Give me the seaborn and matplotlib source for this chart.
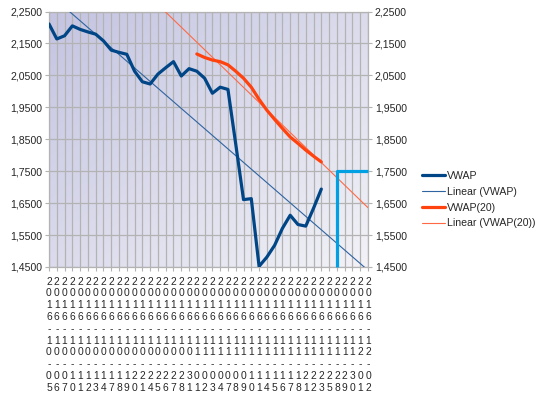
import numpy as np
import pandas as pd
import seaborn as sns
import matplotlib.pyplot as plt
from matplotlib.ticker import FuncFormatter
from matplotlib.lines import Line2D
from matplotlib.colors import LinearSegmentedColormap

dates = ['2016-10-05', '2016-10-06', '2016-10-07', '2016-10-10', '2016-10-11', '2016-10-12',
         '2016-10-13', '2016-10-14', '2016-10-17', '2016-10-18', '2016-10-19', '2016-10-20',
         '2016-10-21', '2016-10-24', '2016-10-25', '2016-10-26', '2016-10-27', '2016-10-28',
         '2016-10-31', '2016-11-01', '2016-11-02', '2016-11-03', '2016-11-04', '2016-11-07',
         '2016-11-08', '2016-11-09', '2016-11-10', '2016-11-11', '2016-11-14', '2016-11-15',
         '2016-11-16', '2016-11-17', '2016-11-18', '2016-11-21', '2016-11-22', '2016-11-23',
         '2016-11-25', '2016-11-28', '2016-11-29', '2016-11-30', '2016-12-01', '2016-12-02']

vwap = [2.211, 2.164, 2.174, 2.205, 2.194, 2.186, 2.179, 2.158, 2.129, 2.122,
        2.116, 2.063, 2.030, 2.023, 2.054, 2.074, 2.093, 2.048, 2.071, 2.063,
        2.041, 1.994, 2.013, 2.006, 1.835, 1.661, 1.664, 1.452, 1.481, 1.518,
        1.571, 1.612, 1.583, 1.578, 1.634, 1.694]

vwap20 = [2.117, 2.106, 2.098, 2.093, 2.083, 2.063, 2.041, 2.013, 1.975, 1.941,
          1.912, 1.884, 1.857, 1.837, 1.816, 1.797, 1.779]
vwap20_start = '2016-11-01'

target_level = 1.75
target_date = '2016-11-28'

n = len(dates)
idx = np.arange(n)
df = pd.DataFrame({'pos': idx, 'date': dates})
df['VWAP'] = pd.Series(vwap, dtype=float)
start = dates.index(vwap20_start)
df['VWAP(20)'] = np.nan
df.loc[start:start + len(vwap20) - 1, 'VWAP(20)'] = vwap20


def trend(col):
    d = df.dropna(subset=[col])
    k, b = np.polyfit(d['pos'], d[col], 1)
    return k * idx + b


df['Linear (VWAP)'] = trend('VWAP')
df['Linear (VWAP(20))'] = trend('VWAP(20)')

sns.set_style('white')
plt.rcParams['font.family'] = ['Liberation Sans', 'DejaVu Sans']

fig = plt.figure(figsize=(5.4, 3.98), dpi=100)
ax = fig.add_axes([49 / 540, 1 - 267 / 398, 319 / 540, 255.5 / 398])

ymin, ymax = 1.45, 2.25

# gradient background, darker in the top-left corner
gx, gy = np.meshgrid(np.linspace(0, 1, 200), np.linspace(0, 1, 200))
grad = (gx + gy) / 2
cmap = LinearSegmentedColormap.from_list('bg', ['#c4c4e2', '#f2f2f7'])
ax.imshow(grad, cmap=cmap, extent=[0, 1, 0, 1], transform=ax.transAxes,
          aspect='auto', origin='upper', zorder=0)

blue = '#004586'
orange = '#ff420e'
sns.lineplot(data=df, x='pos', y='Linear (VWAP)', ax=ax, color='#2f64a0', lw=0.8, zorder=3)
sns.lineplot(data=df, x='pos', y='Linear (VWAP(20))', ax=ax, color='#ff6a45', lw=0.8, zorder=3)
sns.lineplot(data=df, x='pos', y='VWAP', ax=ax, color=blue, lw=2.3, zorder=4)
sns.lineplot(data=df, x='pos', y='VWAP(20)', ax=ax, color=orange, lw=2.3, zorder=4)

ti = dates.index(target_date)
ax.plot([ti, ti, n - 1], [ymin, target_level, target_level], color='#00a0e3',
        lw=2.3, zorder=5, clip_on=False, solid_capstyle='butt')

ax.set_xlim(0, n - 1)
ax.set_ylim(ymin, ymax)
ax.set_xticks(idx)
ax.set_xticklabels(['\n'.join(d) for d in dates], fontsize=7.4, linespacing=1.22)
ax.set_yticks(np.arange(14500, 22501, 1000) / 10000)
ax.yaxis.set_major_formatter(FuncFormatter(lambda v, p: f'{v:.4f}'.replace('.', ',')))
ax.tick_params(axis='y', labelsize=7.6, left=True, right=True, labelright=True,
               length=3, width=0.8, color='#b3b3b3', pad=2)
ax.tick_params(axis='x', bottom=True, length=3, width=0.8, color='#b3b3b3', pad=4)
ax.grid(True, color='#b3b3b3', lw=0.9, zorder=1)
ax.set_axisbelow(True)
for s in ax.spines.values():
    s.set_color('#b3b3b3')
    s.set_linewidth(0.9)
ax.set_xlabel('')
ax.set_ylabel('')

handles = [Line2D([], [], color=blue, lw=2.3),
           Line2D([], [], color='#2f64a0', lw=0.8),
           Line2D([], [], color=orange, lw=2.3),
           Line2D([], [], color='#ff6a45', lw=0.8)]
labels = ['VWAP', 'Linear (VWAP)', 'VWAP(20)', 'Linear (VWAP(20))']
fig.legend(handles, labels, loc='upper left', bbox_to_anchor=(422 / 540, 1 - 171 / 398),
           frameon=False, fontsize=7.6, handlelength=2.2, handletextpad=0.15,
           labelspacing=0.55, borderaxespad=0, borderpad=0)

fig.savefig('out.png', dpi=100)
